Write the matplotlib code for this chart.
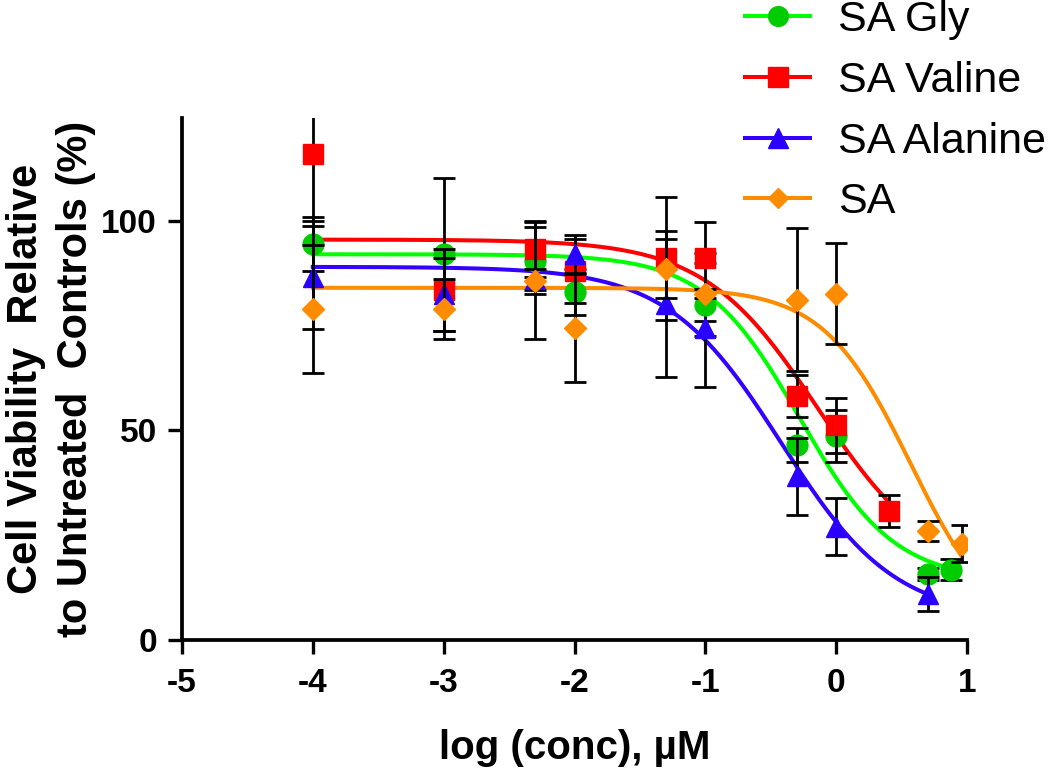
import numpy as np
import matplotlib
matplotlib.use('Agg')
import matplotlib.pyplot as plt
from matplotlib.lines import Line2D

plt.rcParams['font.family'] = ['Liberation Sans', 'DejaVu Sans']

labels = ['SA Gly', 'SA Valine', 'SA Alanine', 'SA']
line_colors = ['#00ff00', '#ff0000', '#3300ff', '#ff8c00']
face_colors = ['#00cc00', '#ff0000', '#2a00ff', '#ff8c00']
markers = ['o', 's', '^', 'D']
msizes = [15, 15, 15, 11]

# measured points: log(conc) in uM, mean viability (%), error (SD)
gly_x = [-4, -3, -2.3, -2, -1, -0.3, 0, 0.7, 0.88]
gly_y = [94.5, 92, 90.5, 83, 80, 46.5, 48.6, 15.7, 16.8]
gly_err = [6.5, 18.3, 8, 5.4, 19.6, 4, 6.2, 1.5, 2.5]

val_x = [-4, -3, -2.3, -2, -1.3, -1, -0.3, 0, 0.4]
val_y = [116, 83.5, 93.3, 88, 91, 91, 58.3, 51.2, 30.8]
val_err = [16, 9.8, 6.7, 7.7, 14.7, 1.2, 5, 6.6, 3.9]

ala_x = [-4, -3, -2.3, -2, -1.3, -1, -0.3, 0, 0.7]
ala_y = [86.5, 82.5, 86, 92, 80.2, 74.3, 39, 27, 11]
ala_err = [12.3, 8.7, 2.5, 4.7, 17.4, 1.7, 9.2, 6.8, 4]

sa_x = [-4, -3, -2.3, -2, -1.3, -1, -0.3, 0, 0.7, 0.96]
sa_y = [79, 79, 85.7, 74.5, 88.6, 82.6, 81.2, 82.6, 26, 23]
sa_err = [15.2, 7.2, 14, 13, 7, 1, 17, 12, 2.4, 4.5]

# four-parameter logistic fits: top, bottom, logIC50, hill slope
fit_top = [92, 95.5, 89, 84]
fit_bottom = [14, 15, 5, 0]
fit_logic50 = [-0.28, -0.14, -0.42, 0.57]
fit_hill = [1.2, 1.0, 1.0, 1.3]

xs = [gly_x, val_x, ala_x, sa_x]
ys = [gly_y, val_y, ala_y, sa_y]
errs = [gly_err, val_err, ala_err, sa_err]

fig = plt.figure(figsize=(10.5, 7.72), dpi=100)
ax = fig.add_axes([182 / 1050, 1 - 640 / 772, 785 / 1050, 522 / 772])

for i in range(4):
    xx = np.linspace(min(xs[i]), max(xs[i]), 300)
    yy = fit_bottom[i] + (fit_top[i] - fit_bottom[i]) / (1 + 10 ** ((xx - fit_logic50[i]) * fit_hill[i]))
    ax.plot(xx, yy, color=line_colors[i], lw=2.9, zorder=2)
    ax.errorbar(xs[i], ys[i], yerr=errs[i], fmt='none', ecolor='black',
                elinewidth=2.0, capsize=8, capthick=2.0, zorder=5 + i)
    ax.plot(xs[i], ys[i], linestyle='none', marker=markers[i], ms=msizes[i],
            mfc=face_colors[i], mec=face_colors[i], zorder=5 + i)

ax.set_xlim(-5, 1)
ax.set_ylim(0, 124.5)
ax.set_xticks([-5, -4, -3, -2, -1, 0, 1])
ax.set_xticklabels(['-5', '-4', '-3', '-2', '-1', '0', '1'])
ax.set_yticks([0, 50, 100])
for s in ['top', 'right']:
    ax.spines[s].set_visible(False)
for s in ['left', 'bottom']:
    ax.spines[s].set_linewidth(2.7)
ax.tick_params(width=2.4, length=10, labelsize=24)
ax.tick_params(axis='x', pad=10)
ax.tick_params(axis='y', pad=8)
for t in ax.get_xticklabels() + ax.get_yticklabels():
    t.set_fontweight('bold')

ax.set_xlabel('log (conc), \u00b5M', fontsize=29, fontweight='bold', labelpad=22)
ax.set_ylabel('Cell Viability  Relative\nto Untreated  Controls (%)',
              fontsize=30, fontweight='bold', labelpad=4, linespacing=1.3)

handles = [Line2D([], [], color=line_colors[i], lw=2.9, marker=markers[i],
                  ms=msizes[i] * 0.95, mfc=face_colors[i], mec=face_colors[i])
           for i in range(4)]
fig.legend(handles, labels, loc='upper left', bbox_to_anchor=(741 / 1050, 1.005),
           frameon=False, fontsize=31, handlelength=1.5, handletextpad=0.65,
           labelspacing=0.48, borderpad=0.1, borderaxespad=0)

fig.savefig('out.png', dpi=100)
